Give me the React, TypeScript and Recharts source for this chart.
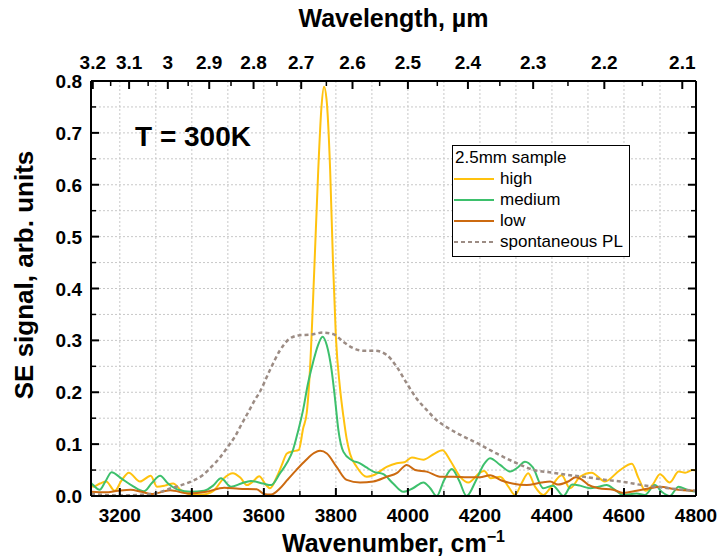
import React from 'react';
import { ComposedChart, Line, XAxis, YAxis, CartesianGrid, Legend, Customized } from 'recharts';

const FONT = "'Liberation Sans', Arial, Helvetica, sans-serif";

// wavenumber (cm^-1), SE signal (arb. units)
const highSeries: [number, number][] = [
  [3120, 0.022], [3126, 0.018], [3145, 0.024], [3162, 0.028], [3186, 0.010], [3205, 0.030],
  [3225, 0.045], [3256, 0.028], [3286, 0.039], [3303, 0.018], [3325, 0.020], [3348, 0.024],
  [3370, 0.011], [3395, 0.004], [3430, 0.003], [3460, 0.010], [3487, 0.033], [3514, 0.044],
  [3535, 0.035], [3553, 0.021], [3570, 0.028], [3587, 0.038], [3605, 0.022], [3617, 0.015],
  [3636, 0.037], [3650, 0.060], [3664, 0.082], [3680, 0.086], [3697, 0.089], [3709, 0.130],
  [3719, 0.160], [3728, 0.243], [3740, 0.436], [3751, 0.628], [3760, 0.750], [3767, 0.789],
  [3774, 0.765], [3784, 0.630], [3792, 0.450], [3800, 0.307], [3811, 0.211], [3821, 0.153],
  [3830, 0.110], [3839, 0.082], [3858, 0.056], [3886, 0.037], [3904, 0.040], [3941, 0.056],
  [3969, 0.063], [3990, 0.065], [4011, 0.074], [4043, 0.070], [4070, 0.080], [4096, 0.088],
  [4117, 0.069], [4145, 0.037], [4168, 0.026], [4200, 0.045], [4212, 0.048], [4230, 0.034],
  [4256, 0.037], [4279, 0.018], [4297, 0.002], [4316, 0.025], [4334, 0.044], [4353, 0.018],
  [4376, 0.002], [4395, 0.015], [4427, 0.040], [4450, 0.015], [4478, 0.037], [4510, 0.045],
  [4547, 0.028], [4589, 0.050], [4622, 0.062], [4640, 0.035], [4660, 0.010], [4680, 0.022],
  [4700, 0.042], [4727, 0.026], [4752, 0.047], [4770, 0.045], [4791, 0.050], [4800, 0.049],
];

const mediumSeries: [number, number][] = [
  [3120, 0.025], [3126, 0.021], [3144, 0.012], [3160, 0.028], [3177, 0.046], [3204, 0.034],
  [3234, 0.020], [3267, 0.009], [3289, 0.025], [3312, 0.039], [3334, 0.024], [3362, 0.012],
  [3398, 0.008], [3434, 0.010], [3459, 0.020], [3481, 0.034], [3509, 0.018], [3537, 0.024],
  [3564, 0.029], [3598, 0.024], [3620, 0.021], [3645, 0.044], [3665, 0.065], [3681, 0.089],
  [3695, 0.125], [3709, 0.166], [3722, 0.215], [3736, 0.256], [3750, 0.290], [3763, 0.307],
  [3775, 0.290], [3788, 0.243], [3798, 0.185], [3807, 0.127], [3821, 0.085], [3844, 0.069],
  [3867, 0.063], [3885, 0.055], [3904, 0.047], [3932, 0.042], [3959, 0.024], [3987, 0.008],
  [4014, 0.015], [4043, 0.026], [4062, 0.015], [4080, 0.000], [4100, 0.030], [4122, 0.052],
  [4142, 0.030], [4163, 0.000], [4189, 0.030], [4210, 0.060], [4228, 0.073], [4256, 0.060],
  [4284, 0.047], [4305, 0.055], [4325, 0.066], [4347, 0.055], [4376, 0.015], [4403, 0.020],
  [4432, 0.000], [4456, 0.022], [4478, 0.020], [4506, 0.015], [4530, 0.018], [4552, 0.021],
  [4575, 0.012], [4598, 0.002], [4635, 0.005], [4658, 0.002], [4686, 0.021], [4705, 0.008],
  [4727, 0.000], [4752, 0.018], [4775, 0.012], [4800, 0.008],
];

const lowSeries: [number, number][] = [
  [3120, 0.008], [3160, 0.007], [3195, 0.010], [3230, 0.012], [3260, 0.008], [3290, 0.004],
  [3340, 0.011], [3390, 0.005], [3440, 0.008], [3490, 0.016], [3530, 0.014], [3580, 0.013],
  [3600, 0.004], [3620, 0.003], [3645, 0.015], [3664, 0.030], [3690, 0.050], [3715, 0.068],
  [3740, 0.083], [3756, 0.087], [3775, 0.082], [3802, 0.056], [3830, 0.031], [3867, 0.026],
  [3904, 0.028], [3941, 0.037], [3969, 0.044], [3997, 0.060], [4020, 0.050], [4052, 0.047],
  [4093, 0.037], [4126, 0.037], [4165, 0.036], [4200, 0.036], [4228, 0.040], [4260, 0.030],
  [4290, 0.024], [4330, 0.021], [4370, 0.026], [4395, 0.028], [4417, 0.022], [4445, 0.028],
  [4466, 0.036], [4482, 0.032], [4500, 0.022], [4530, 0.015], [4570, 0.012], [4598, 0.006],
  [4635, 0.010], [4672, 0.015], [4700, 0.018], [4740, 0.013], [4800, 0.010],
];

const plSeries: [number, number][] = [
  [3120, 0.004], [3200, 0.001], [3250, 0.002], [3297, 0.005], [3343, 0.015], [3398, 0.028],
  [3430, 0.040], [3454, 0.056], [3478, 0.074], [3500, 0.095], [3520, 0.115], [3537, 0.137],
  [3557, 0.162], [3575, 0.185], [3589, 0.201], [3617, 0.243], [3645, 0.281], [3673, 0.304],
  [3700, 0.310], [3728, 0.311], [3765, 0.315], [3793, 0.312], [3821, 0.297], [3848, 0.285],
  [3876, 0.280], [3909, 0.280], [3941, 0.272], [3969, 0.249], [3997, 0.217], [4024, 0.188],
  [4052, 0.166], [4080, 0.146], [4100, 0.136], [4137, 0.121], [4200, 0.099], [4246, 0.082],
  [4300, 0.064], [4350, 0.050], [4400, 0.045], [4450, 0.040], [4500, 0.036], [4550, 0.031],
  [4600, 0.027], [4650, 0.021], [4700, 0.017], [4750, 0.013], [4800, 0.010],
];

const wavenumberTicks = [3200, 3300, 3400, 3500, 3600, 3700, 3800, 3900, 4000, 4100, 4200, 4300, 4400, 4500, 4600, 4700, 4800];
const wavelengthTicks = [3.2, 3.15, 3.1, 3.05, 3.0, 2.95, 2.9, 2.85, 2.8, 2.75, 2.7, 2.65, 2.6, 2.55, 2.5, 2.45, 2.4, 2.35, 2.3, 2.25, 2.2, 2.15, 2.1];
const signalTicks = [0, 0.05, 0.1, 0.15, 0.2, 0.25, 0.3, 0.35, 0.4, 0.45, 0.5, 0.55, 0.6, 0.65, 0.7, 0.75, 0.8];

const X_DOMAIN: [number, number] = [3120, 4800];
const Y_DOMAIN: [number, number] = [0, 0.8];

const toPoints = (s: [number, number][]) => s.map(([x, y]) => ({ x, y }));

const seriesDefs = [
  { key: 'high', name: 'high', color: '#FFC20E', dash: undefined as string | undefined, data: toPoints(highSeries) },
  { key: 'medium', name: 'medium', color: '#3DC06C', dash: undefined as string | undefined, data: toPoints(mediumSeries) },
  { key: 'low', name: 'low', color: '#CC6A10', dash: undefined as string | undefined, data: toPoints(lowSeries) },
  { key: 'pl', name: 'spontaneous PL', color: '#9C8C84', dash: '4 3' as string | undefined, data: toPoints(plSeries) },
];

const labelStyle = { fontFamily: FONT, fontWeight: 'bold' as const, fill: '#000' };

const BottomTick = (props: any) => {
  const { x, y, payload } = props;
  const v = payload.value;
  const major = Math.round(v) % 200 === 0;
  return (
    <g>
      <line x1={x} x2={x} y1={y} y2={y - (major ? 8 : 5)} stroke="#000" strokeWidth={major ? 2 : 1.5} />
      {major && (
        <text x={x} y={y + 26} textAnchor="middle" fontSize={19} {...labelStyle}>{v}</text>
      )}
    </g>
  );
};

const TopTick = (props: any) => {
  const { x, y, payload } = props;
  const lambda = Math.round((10000 / payload.value) * 100) / 100;
  const major = Math.round(lambda * 100) % 10 === 0;
  return (
    <g>
      <line x1={x} x2={x} y1={y} y2={y + (major ? 8 : 5)} stroke="#000" strokeWidth={major ? 2 : 1.5} />
      {major && (
        <text x={x} y={y - 12} textAnchor="middle" fontSize={19} {...labelStyle}>{String(Number(lambda.toFixed(1)))}</text>
      )}
    </g>
  );
};

const LeftTick = (props: any) => {
  const { x, y, payload } = props;
  const v = payload.value;
  const major = Math.round(v * 100) % 10 === 0;
  return (
    <g>
      <line x1={x} x2={x + (major ? 8 : 5)} y1={y} y2={y} stroke="#000" strokeWidth={major ? 2 : 1.5} />
      {major && (
        <text x={x - 9} y={y + 7} textAnchor="end" fontSize={19} {...labelStyle}>{v.toFixed(1)}</text>
      )}
    </g>
  );
};

const RightTick = (props: any) => {
  const { x, y, payload } = props;
  const v = payload.value;
  const major = Math.round(v * 100) % 10 === 0;
  return <line x1={x} x2={x - (major ? 8 : 5)} y1={y} y2={y} stroke="#000" strokeWidth={major ? 2 : 1.5} />;
};

const ChartTexts = () => (
  <g>
    <text x={393.5} y={27} textAnchor="middle" fontSize={25} {...labelStyle}>Wavelength, µm</text>
    <text transform="translate(33,275) rotate(-90)" textAnchor="middle" fontSize={26} {...labelStyle}>SE signal, arb. units</text>
    <text x={393.5} y={552} textAnchor="middle" fontSize={25} {...labelStyle}>
      Wavenumber, cm<tspan dy={-10} fontSize={16}>−1</tspan>
    </text>
    <text x={135} y={146} fontSize={28} {...labelStyle}>T = 300K</text>
  </g>
);

const renderLegend = () => (
  <div
    style={{
      width: 178, height: 112, border: '1.5px solid #000', background: '#fff', boxSizing: 'border-box',
      position: 'relative', fontFamily: FONT, fontSize: 17, color: '#000',
    }}
  >
    <div style={{ position: 'absolute', left: 2, top: 2, lineHeight: '20px', whiteSpace: 'nowrap' }}>2.5mm sample</div>
    {seriesDefs.map((s, i) => (
      <div key={s.key} style={{ position: 'absolute', left: 0, top: 22.5 + i * 21.3, height: 20, width: 175 }}>
        <svg width={44} height={20} style={{ position: 'absolute', left: 0, top: 0 }}>
          <line x1={1} x2={41} y1={10} y2={10} stroke={s.color} strokeWidth={2} strokeDasharray={s.dash} />
        </svg>
        <span style={{ position: 'absolute', left: 47, top: 0, lineHeight: '20px', whiteSpace: 'nowrap' }}>{s.name}</span>
      </div>
    ))}
  </div>
);

export default function App() {
  const wavelengthAsWavenumber = wavelengthTicks.map((l) => 10000 / l);
  return (
    <div>
      <style>{'body{margin:0;}'}</style>
      <ComposedChart width={723} height={559} margin={{ top: 0, right: 0, bottom: 0, left: 0 }}>
        <CartesianGrid xAxisId="bottom" yAxisId="left" stroke="#c8c8c8" strokeDasharray="2 2" strokeWidth={1} />
        <XAxis
          xAxisId="bottom" dataKey="x" type="number" domain={X_DOMAIN} allowDataOverflow ticks={wavenumberTicks}
          interval={0} height={63} tickSize={0} tickMargin={0} tickLine={false} tick={<BottomTick />}
          axisLine={{ stroke: '#000', strokeWidth: 2 }}
        />
        <XAxis
          xAxisId="top" orientation="top" dataKey="x" type="number" domain={X_DOMAIN} allowDataOverflow
          ticks={wavelengthAsWavenumber} interval={0} height={81} tickSize={0} tickMargin={0} tickLine={false}
          tick={<TopTick />} axisLine={{ stroke: '#000', strokeWidth: 2 }}
        />
        <YAxis
          yAxisId="left" type="number" domain={Y_DOMAIN} allowDataOverflow ticks={signalTicks} interval={0}
          width={91} tickSize={0} tickMargin={0} tickLine={false} tick={<LeftTick />}
          axisLine={{ stroke: '#000', strokeWidth: 2 }}
        />
        <YAxis
          yAxisId="right" orientation="right" type="number" domain={Y_DOMAIN} allowDataOverflow ticks={signalTicks}
          interval={0} width={27} tickSize={0} tickMargin={0} tickLine={false} tick={<RightTick />}
          axisLine={{ stroke: '#000', strokeWidth: 2 }}
        />
        {seriesDefs.map((s, i) => (
          <Line
            key={s.key}
            data={s.data}
            dataKey="y"
            name={s.name}
            xAxisId={i < 2 ? 'bottom' : 'top'}
            yAxisId={i < 2 ? 'left' : 'right'}
            type="monotone"
            stroke={s.color}
            strokeWidth={s.dash ? 2.5 : 2}
            strokeDasharray={s.dash}
            dot={false}
            activeDot={false}
            isAnimationActive={false}
          />
        ))}
        <Legend
          layout="vertical" align="center" verticalAlign="middle" content={renderLegend}
          wrapperStyle={{ position: 'absolute', left: 452, top: 145, width: 178, height: 112, margin: 0, padding: 0 }}
        />
        <Customized component={<ChartTexts />} />
      </ComposedChart>
    </div>
  );
}
